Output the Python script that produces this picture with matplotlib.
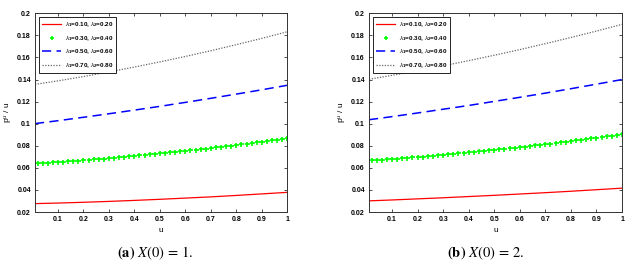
import matplotlib
matplotlib.use("Agg")
import matplotlib.pyplot as plt
from matplotlib.ticker import FormatStrFormatter

plt.rcParams['font.family'] = ['Liberation Sans', 'DejaVu Sans']
plt.rcParams['mathtext.fontset'] = 'custom'
plt.rcParams['mathtext.rm'] = 'Liberation Sans:bold'
plt.rcParams['mathtext.it'] = 'Liberation Sans:italic'
plt.rcParams['mathtext.bf'] = 'Liberation Sans:bold'

# u grid for the line series
u_line = [0.01, 0.1, 0.2, 0.3, 0.4, 0.5, 0.6, 0.7, 0.8, 0.9, 1.0]

# panel (a) X(0) = 1
red_a = [0.0276, 0.0281, 0.0288, 0.0296, 0.0305, 0.0315, 0.0326, 0.0337, 0.0350, 0.0364, 0.0378]
blue_a = [0.1001, 0.1027, 0.1058, 0.1090, 0.1123, 0.1157, 0.1193, 0.1230, 0.1268, 0.1307, 0.1348]
gray_a = [0.1356, 0.1388, 0.1427, 0.1469, 0.1513, 0.1560, 0.1609, 0.1661, 0.1716, 0.1773, 0.1833]

# panel (b) X(0) = 2
red_b = [0.0301, 0.0309, 0.0319, 0.0329, 0.0340, 0.0351, 0.0363, 0.0375, 0.0388, 0.0402, 0.0416]
blue_b = [0.1036, 0.1064, 0.1097, 0.1131, 0.1165, 0.1202, 0.1239, 0.1277, 0.1317, 0.1358, 0.1400]
gray_b = [0.1402, 0.1438, 0.1480, 0.1524, 0.1571, 0.1620, 0.1671, 0.1725, 0.1781, 0.1839, 0.1900]

# green marker series, denser grid
u_mark = [0.02, 0.04, 0.06, 0.08, 0.10, 0.12, 0.14, 0.16, 0.18, 0.20,
          0.22, 0.24, 0.26, 0.28, 0.30, 0.32, 0.34, 0.36, 0.38, 0.40,
          0.42, 0.44, 0.46, 0.48, 0.50, 0.52, 0.54, 0.56, 0.58, 0.60,
          0.62, 0.64, 0.66, 0.68, 0.70, 0.72, 0.74, 0.76, 0.78, 0.80,
          0.82, 0.84, 0.86, 0.88, 0.90, 0.92, 0.94, 0.96, 0.98, 1.00]
green_a = [0.06408, 0.06437, 0.06467, 0.06498, 0.06529, 0.06561, 0.06594, 0.06627, 0.06661, 0.06696,
           0.06732, 0.06768, 0.06805, 0.06843, 0.06881, 0.06920, 0.06960, 0.07001, 0.07042, 0.07084,
           0.07127, 0.07170, 0.07214, 0.07259, 0.07305, 0.07351, 0.07398, 0.07446, 0.07495, 0.07544,
           0.07594, 0.07645, 0.07696, 0.07748, 0.07801, 0.07855, 0.07909, 0.07964, 0.08020, 0.08076,
           0.08133, 0.08191, 0.08250, 0.08309, 0.08369, 0.08430, 0.08491, 0.08553, 0.08616, 0.08680]
green_b = [0.06680, 0.06711, 0.06743, 0.06776, 0.06809, 0.06843, 0.06878, 0.06913, 0.06949, 0.06986,
           0.07024, 0.07062, 0.07101, 0.07141, 0.07181, 0.07222, 0.07264, 0.07307, 0.07350, 0.07394,
           0.07439, 0.07484, 0.07530, 0.07577, 0.07625, 0.07673, 0.07722, 0.07772, 0.07823, 0.07874,
           0.07926, 0.07979, 0.08032, 0.08086, 0.08141, 0.08197, 0.08253, 0.08310, 0.08368, 0.08426,
           0.08485, 0.08545, 0.08606, 0.08667, 0.08729, 0.08792, 0.08855, 0.08919, 0.08984, 0.09050]

labels = [r'$\lambda_1$=0.10, $\lambda_2$=0.20',
          r'$\lambda_1$=0.30, $\lambda_2$=0.40',
          r'$\lambda_1$=0.50, $\lambda_2$=0.60',
          r'$\lambda_1$=0.70, $\lambda_2$=0.80']
xticks = [0.1, 0.2, 0.3, 0.4, 0.5, 0.6, 0.7, 0.8, 0.9, 1]
yticks = [0.02, 0.04, 0.06, 0.08, 0.1, 0.12, 0.14, 0.16, 0.18, 0.2]
captions = [r'$\mathbf{(a)}\ X(0)\,=\,1.$', r'$\mathbf{(b)}\ X(0)\,=\,2.$']

fig = plt.figure(figsize=(6.41, 2.66), dpi=100)
ax1 = fig.add_axes([0.0546, 0.203, 0.3936, 0.747])
ax2 = fig.add_axes([0.5757, 0.203, 0.3947, 0.747])

panels = [(ax1, red_a, green_a, blue_a, gray_a, 155, captions[0]),
          (ax2, red_b, green_b, blue_b, gray_b, 486, captions[1])]

for ax, red, green, blue, gray, cx, cap in panels:
    ax.plot(u_line, red, color="red", lw=0.9, label=labels[0])
    ax.plot(u_mark, green, color=(0, 1, 0), ls="none", marker="+", ms=3.6, mew=1.2, label=labels[1])
    ax.plot(u_line, blue, color="blue", lw=1.1, ls=(0, (6, 3.5)), label=labels[2])
    ax.plot(u_line, gray, color="#666666", lw=0.9, ls=(0, (1, 1.2)), label=labels[3])

    ax.set_xlim(0.01, 1)
    ax.set_ylim(0.02, 0.2)
    ax.set_xticks(xticks)
    ax.set_yticks(yticks)
    ax.xaxis.set_major_formatter(FormatStrFormatter('%g'))
    ax.yaxis.set_major_formatter(FormatStrFormatter('%g'))
    ax.tick_params(direction="in", top=True, right=True, length=2.5, width=0.6,
                   labelsize=5, pad=3, colors="#333333")
    for lbl in ax.get_xticklabels() + ax.get_yticklabels():
        lbl.set_fontweight("bold")
        lbl.set_color("black")
    for s in ax.spines.values():
        s.set_linewidth(0.7)
        s.set_color("#333333")

    ax.set_xlabel("u", fontsize=6, labelpad=3)
    ax.set_ylabel(r"p$^{u}$ / u", fontsize=6)
    ax.yaxis.set_label_coords(-0.078, 0.5)

    leg = ax.legend(loc="upper left", fontsize=4.5, handlelength=3, labelspacing=0.75,
                    borderpad=0.5, handletextpad=0.6, framealpha=1, fancybox=False,
                    borderaxespad=0.65, markerscale=0.8, numpoints=1)
    leg.get_frame().set_edgecolor("black")
    leg.get_frame().set_linewidth(0.6)
    for t in leg.get_texts():
        t.set_fontweight("bold")

    fig.text(cx / 641, 1 - 253 / 266, cap, ha="center", va="center",
             fontsize=10.5, math_fontfamily="stix")

fig.savefig("out.png", dpi=100)
